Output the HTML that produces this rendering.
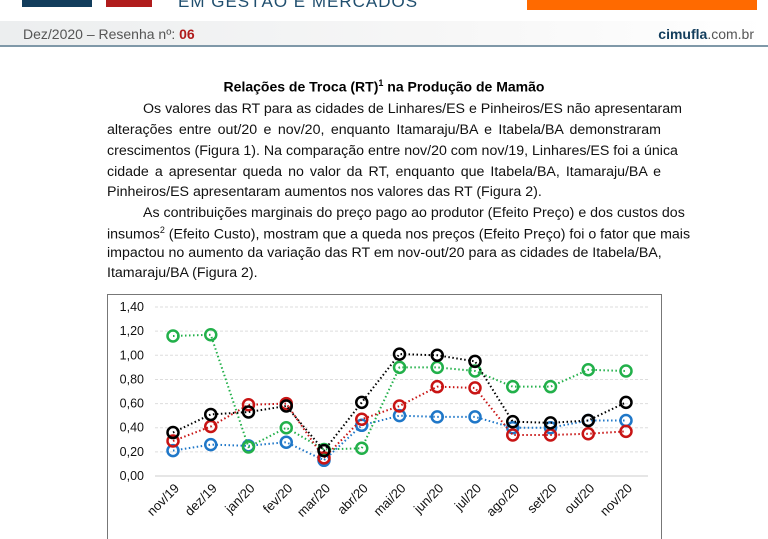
<!DOCTYPE html>
<html><head><meta charset="utf-8"><style>
body{margin:0;width:768px;height:539px;overflow:hidden;background:#fff;font-family:"Liberation Sans",sans-serif;position:relative}
.abs{position:absolute}
.p{position:absolute;left:107px;width:554px;font-size:14.2px;color:#111;text-align:justify;text-align-last:justify;white-space:nowrap}
.p.l{text-align-last:left}
</style></head><body>
<div class="abs" style="left:22px;top:0;width:70px;height:7px;background:#123d5c"></div>
<div class="abs" style="left:106px;top:0;width:46px;height:7px;background:#b01c1c"></div>
<div class="abs" style="left:178px;top:-8px;font-size:17px;color:#1f4e6e;letter-spacing:1px">EM GESTÃO E MERCADOS</div>
<div class="abs" style="left:527px;top:0;width:230px;height:10px;background:#ff6a00"></div>
<div class="abs" style="left:0;top:21px;width:768px;height:24px;background:linear-gradient(90deg,#eceeef,#f7f7f7 60%,#fff);border-bottom:2px solid #7f98a8"></div>
<div class="abs" style="left:23px;top:26px;font-size:14px;color:#555">Dez/2020 – Resenha nº: <b style="color:#b01c1c">06</b></div>
<div class="abs" style="right:14px;top:26px;font-size:14px;color:#555"><b style="color:#123d5c">cimufla</b>.com.br</div>
<div class="abs" style="left:0;width:768px;top:78px;text-align:center;font-size:14px;font-weight:bold">Relações de Troca (RT)<sup style="font-size:9px">1</sup> na Produção de Mamão</div>
<div>
<div class="p" style="top:101px;padding-left:36px;width:518px">Os valores das RT para as cidades de Linhares/ES e Pinheiros/ES não apresentaram</div>
<div class="p" style="top:122px">alterações entre out/20 e nov/20, enquanto Itamaraju/BA e Itabela/BA demonstraram</div>
<div class="p" style="top:143px">crescimentos (Figura 1). Na comparação entre nov/20 com nov/19, Linhares/ES foi a única</div>
<div class="p" style="top:164px">cidade a apresentar queda no valor da RT, enquanto que Itabela/BA, Itamaraju/BA e</div>
<div class="p l" style="top:184px">Pinheiros/ES apresentaram aumentos nos valores das RT (Figura 2).</div>
</div>
<div>
<div class="p" style="top:205px;padding-left:36px;width:518px">As contribuições marginais do preço pago ao produtor (Efeito Preço) e dos custos dos</div>
<div class="p" style="top:225px">insumos<sup style="font-size:9px">2</sup> (Efeito Custo), mostram que a queda nos preços (Efeito Preço) foi o fator que mais</div>
<div class="p" style="top:245px">impactou no aumento da variação das RT em nov-out/20 para as cidades de Itabela/BA,</div>
<div class="p l" style="top:265px">Itamaraju/BA (Figura 2).</div>
</div>
<svg class="abs" style="left:0;top:0" width="768" height="539">
<rect x="107.5" y="294.5" width="554" height="260" fill="none" stroke="#777"/>
<g id="grid"></g><g id="series"></g>
</svg>
<script>
const categories=["nov/19","dez/19","jan/20","fev/20","mar/20","abr/20","mai/20","jun/20","jul/20","ago/20","set/20","out/20","nov/20"];
const yTicks=[0,0.2,0.4,0.6,0.8,1.0,1.2,1.4];
const blueVals=[0.21,0.26,0.25,0.28,0.13,0.42,0.50,0.49,0.49,0.40,0.40,0.46,0.46];
const greenVals=[1.16,1.17,0.24,0.40,0.22,0.23,0.90,0.90,0.87,0.74,0.74,0.88,0.87];
const redVals=[0.29,0.41,0.59,0.60,0.15,0.47,0.58,0.74,0.73,0.34,0.34,0.35,0.37];
const blackVals=[0.36,0.51,0.53,0.58,0.21,0.61,1.01,1.00,0.95,0.45,0.44,0.46,0.61];
const NS="http://www.w3.org/2000/svg";
const x=i=>173+i*37.75;
const y=v=>476-v*120.7;
function mk(t,a,p){const e=document.createElementNS(NS,t);for(const k in a)e.setAttribute(k,a[k]);p.appendChild(e);return e;}
const grid=document.getElementById('grid'),ser=document.getElementById('series');
yTicks.forEach(v=>{
 const l=mk('line',{x1:155,x2:648,y1:y(v),y2:y(v),stroke:v===0?'#ccc':'#ddd','stroke-dasharray':v===0?'':'3,2'},grid);
 
 
 const t=mk('text',{x:144,y:y(v)+4,'text-anchor':'end','font-size':'12.5','fill':'#111','font-family':'Liberation Sans, sans-serif'},grid);
 t.textContent=v.toFixed(2).replace('.',',');
 
 
});
categories.forEach((c,i)=>{
 const t=mk('text',{x:x(i)+7,y:489,'text-anchor':'end','font-size':'13','fill':'#111','font-family':'Liberation Sans, sans-serif',transform:`rotate(-45 ${x(i)+7} 489)`},grid);
 t.textContent=c;
 
 
});
[[blueVals,'#1f77c8','series-blue'],[greenVals,'#22b04a','series-green'],[redVals,'#c81414','series-red'],[blackVals,'#000','series-black']].forEach(([vals,col,name])=>{
 const g=mk('g',{},ser);
 
 
 const pl=mk('polyline',{points:vals.map((v,i)=>x(i)+','+y(v)).join(' '),fill:'none',stroke:col,'stroke-width':2,'stroke-dasharray':'1.5,2.5'},g);
 
 
 vals.forEach((v,i)=>{
  const c=mk('circle',{cx:x(i),cy:y(v),r:5.5,fill:'none',stroke:col,'stroke-width':2.5},g);
  
  
 });
});
</script>
</body></html>
